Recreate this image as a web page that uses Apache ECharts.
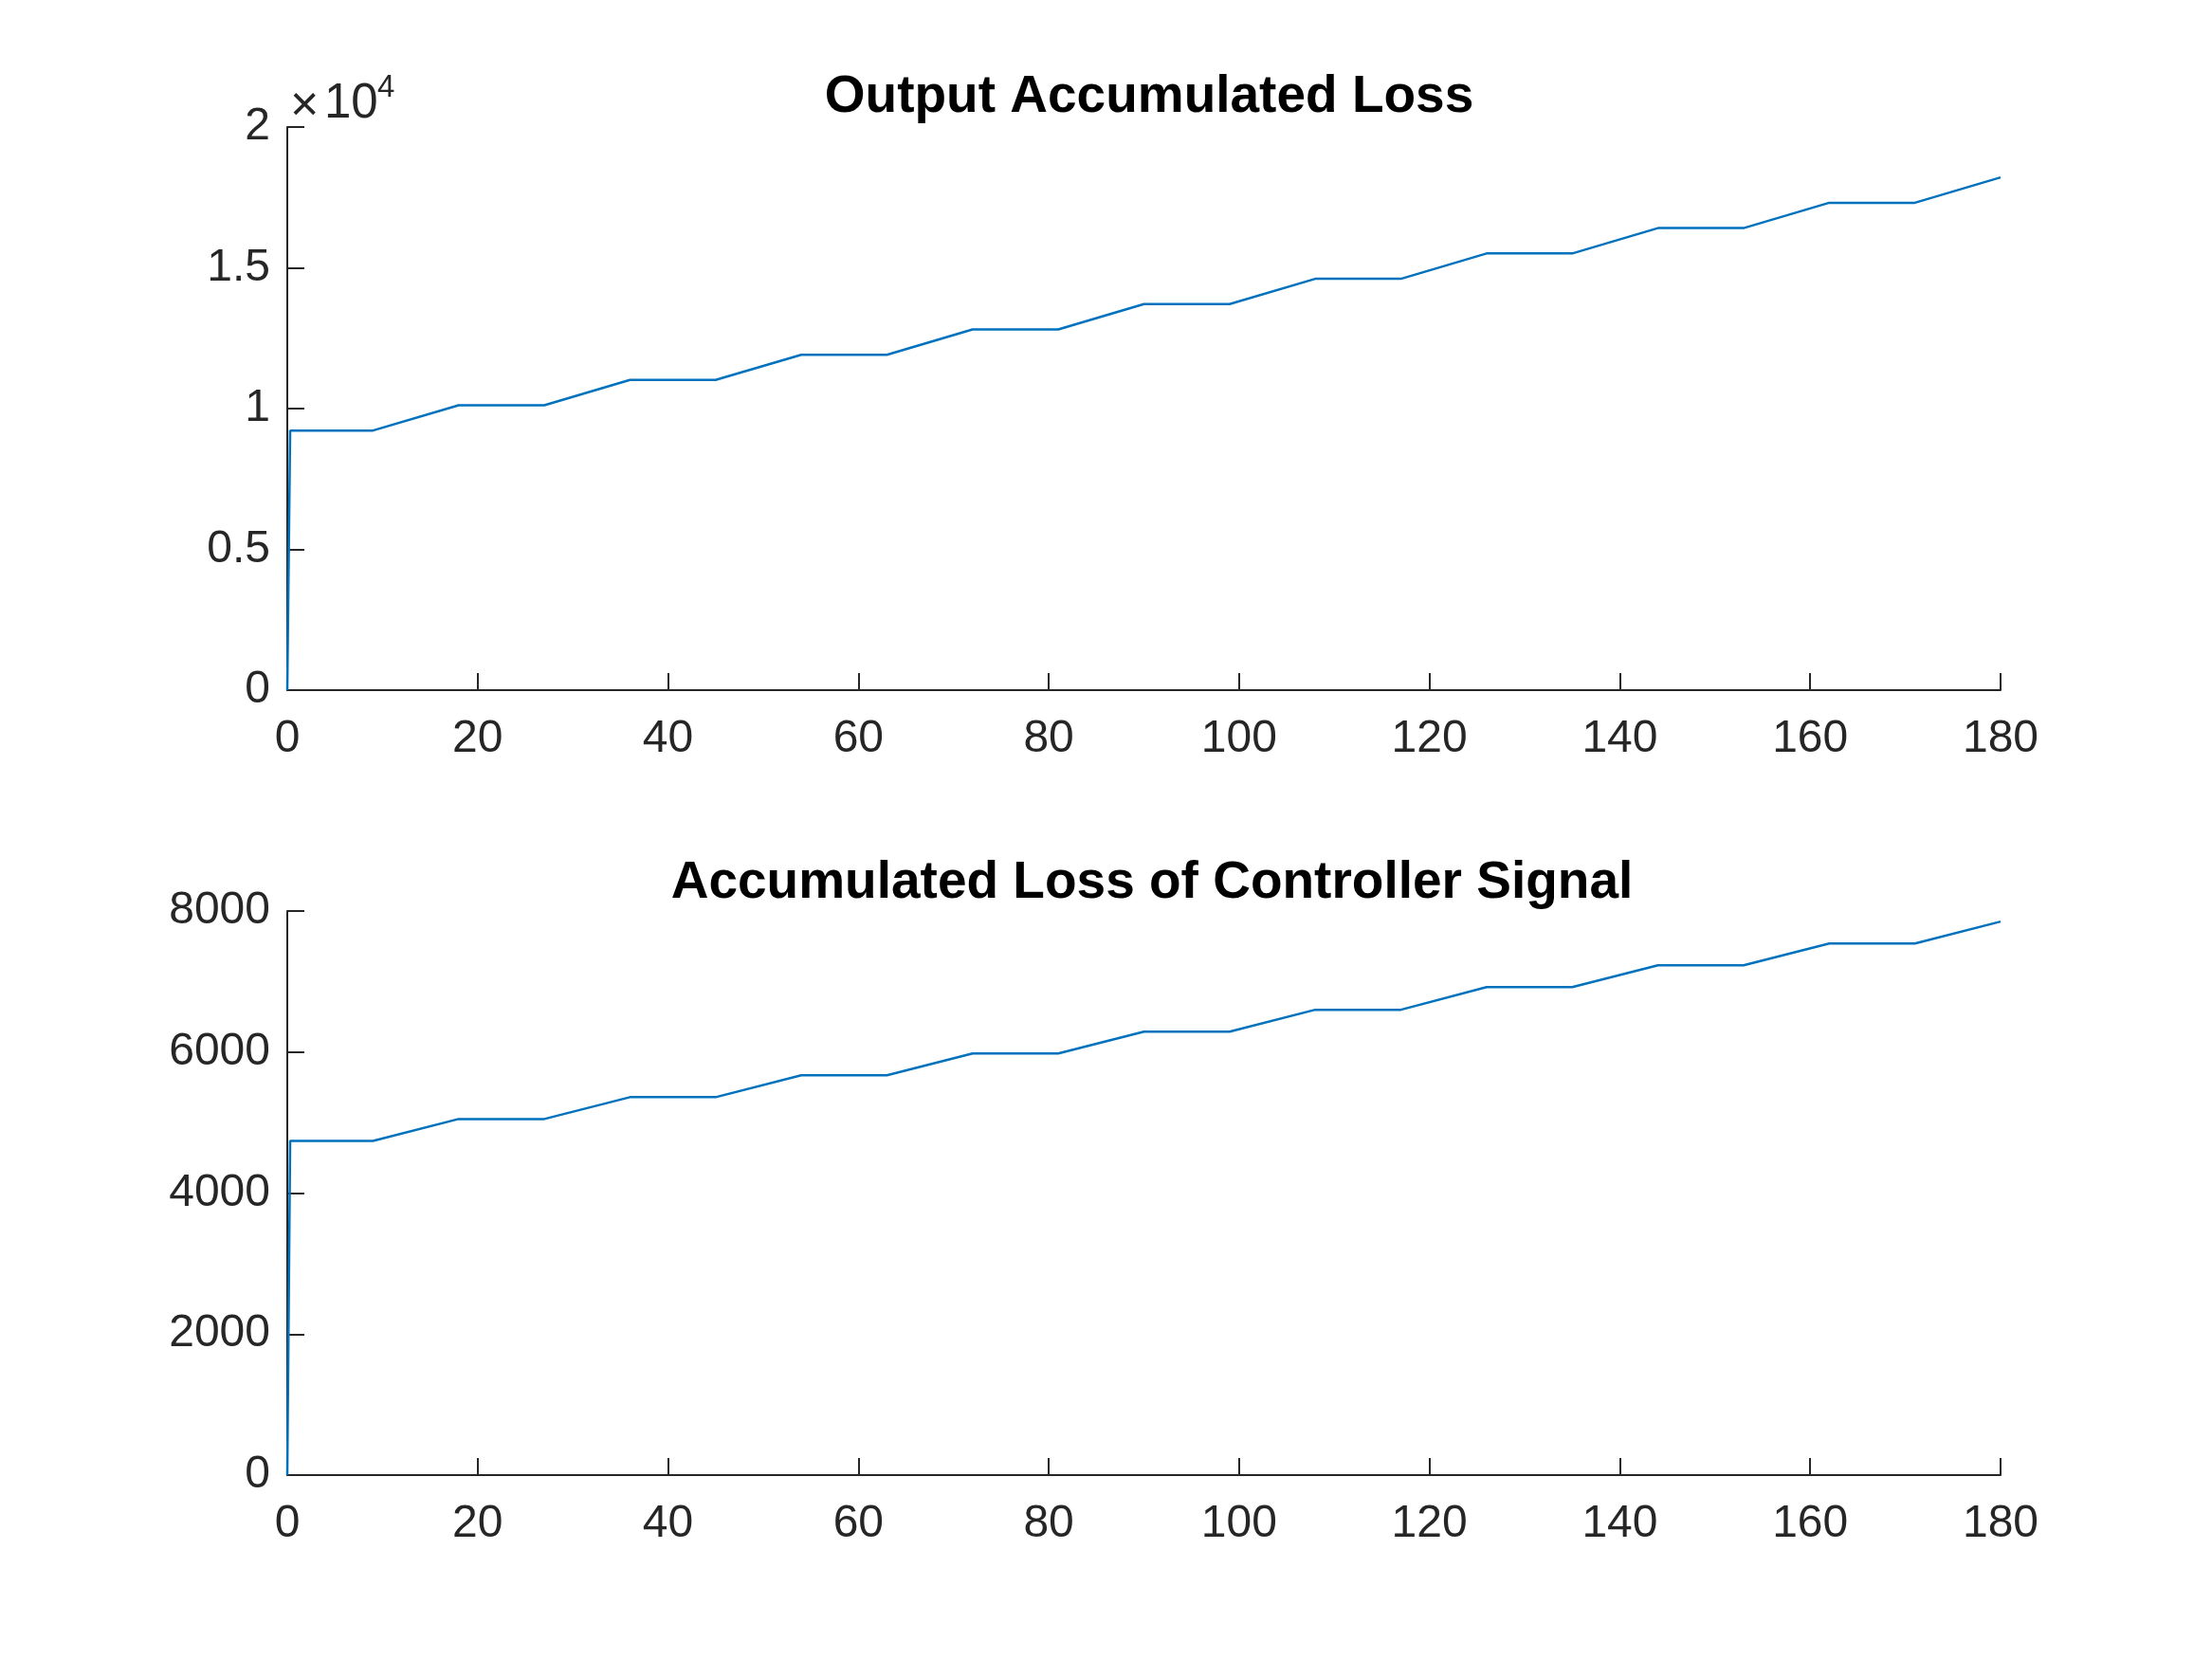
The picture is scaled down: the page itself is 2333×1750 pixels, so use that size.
<!DOCTYPE html>
<html>
<head>
<meta charset="utf-8">
<script src="https://cdn.jsdelivr.net/npm/echarts@6/dist/echarts.min.js"></script>
<style>
  html, body { margin: 0; padding: 0; background: #fff; }
  #main { width: 2333px; height: 1750px; }
</style>
</head>
<body>
<div id="main"></div>
<script>
// time knots (x) shared by both curves
var timeKnots = [0, 0.3, 9, 18, 27, 36, 45, 54, 63, 72, 81, 90, 99, 108, 117, 126, 135, 144, 153, 162, 171, 180];
// output accumulated loss
var outputLoss = [0, 9220, 9220, 10120, 10120, 11020, 11020, 11910, 11910, 12810, 12810, 13710, 13710,
                  14610, 14610, 15510, 15510, 16410, 16410, 17310, 17310, 18210];
// accumulated loss of controller signal (bottom panel)
var controlLoss = [0, 4740, 4740, 5050, 5050, 5360, 5360, 5670, 5670, 5980, 5980, 6290, 6290,
                   6600, 6600, 6920, 6920, 7230, 7230, 7540, 7540, 7850];
var titles = ['Output Accumulated Loss', 'Accumulated Loss of Controller Signal'];
var xTicks = { min: 0, max: 180, step: 20 };

function pairs(xs, ys) {
  var out = [];
  for (var i = 0; i < xs.length; i++) out.push([xs[i], ys[i]]);
  return out;
}

var FONT = "'Liberation Sans', Arial, sans-serif";
var AX = '#262626';

var myChart = echarts.init(document.getElementById('main'));

function xAxisCfg(idx) {
  return {
    type: 'value', gridIndex: idx,
    min: xTicks.min, max: xTicks.max, interval: xTicks.step,
    axisLine: { show: true, onZero: false, lineStyle: { color: AX, width: 2 } },
    axisTick: { show: true, inside: true, length: 18, lineStyle: { color: AX, width: 2 } },
    axisLabel: { color: AX, fontSize: 48, fontFamily: FONT, margin: 28 },
    splitLine: { show: false }
  };
}
function yAxisCfg(idx, max, step, fmt) {
  return {
    type: 'value', gridIndex: idx,
    min: 0, max: max, interval: step,
    axisLine: { show: true, onZero: false, lineStyle: { color: AX, width: 2 } },
    axisTick: { show: true, inside: true, length: 18, lineStyle: { color: AX, width: 2 } },
    axisLabel: { color: AX, fontSize: 48, fontFamily: FONT, margin: 18, padding: [10, 0, 0, 0], formatter: fmt },
    splitLine: { show: false }
  };
}

option = {
  animation: false,
  backgroundColor: '#fff',
  title: [
    { text: titles[0], left: 1207, top: 70, textAlign: 'center',
      textStyle: { color: '#000', fontSize: 55, fontWeight: 'bold', fontFamily: FONT } },
    { text: titles[1], left: 1210, top: 899, textAlign: 'center',
      textStyle: { color: '#000', fontSize: 55, fontWeight: 'bold', fontFamily: FONT } }
  ],
  grid: [
    { left: 303, width: 1807, top: 134, height: 594 },
    { left: 303, width: 1807, top: 961, height: 595 }
  ],
  xAxis: [xAxisCfg(0), xAxisCfg(1)],
  yAxis: [
    yAxisCfg(0, 20000, 5000, function (v) { return String(v / 10000); }),
    yAxisCfg(1, 8000, 2000, function (v) { return String(v); })
  ],
  graphic: [
    { type: 'text', left: 306, top: 87,
      style: { text: '×', fill: AX, font: '52px ' + FONT } },
    { type: 'text', left: 342, top: 84,
      style: { text: '10', fill: AX, font: '51px ' + FONT } },
    { type: 'text', left: 398, top: 76,
      style: { text: '4', fill: AX, font: '33px ' + FONT } }
  ],
  series: [
    { type: 'line', xAxisIndex: 0, yAxisIndex: 0, data: pairs(timeKnots, outputLoss),
      showSymbol: false, lineStyle: { color: '#0072BD', width: 2.5 } },
    { type: 'line', xAxisIndex: 1, yAxisIndex: 1, data: pairs(timeKnots, controlLoss),
      showSymbol: false, lineStyle: { color: '#0072BD', width: 2.5 } }
  ]
};

myChart.setOption(option);
</script>
</body>
</html>
